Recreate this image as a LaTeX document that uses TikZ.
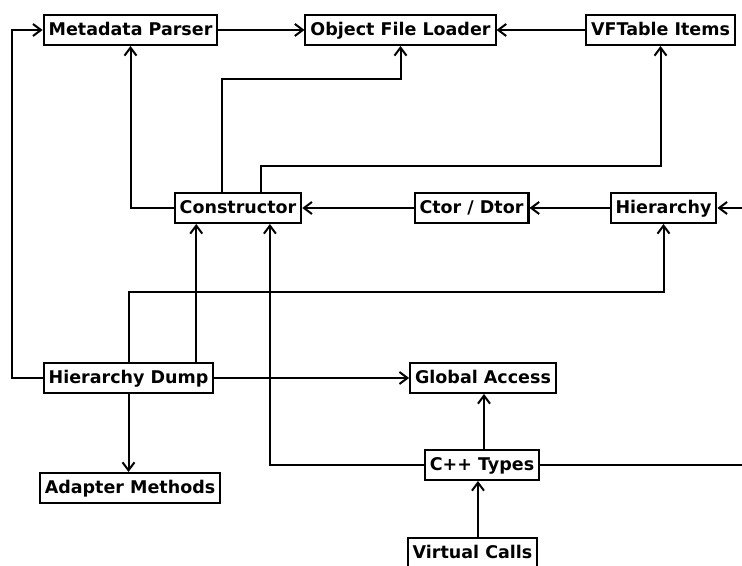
\documentclass[tikz,border=0pt]{standalone}
\usepackage{fontspec}
\setmainfont{DejaVu Sans}
\usepackage{tikz}
\usetikzlibrary{arrows.meta, positioning, calc}
\tikzset{
  modbox/.style={
    draw, line width=2bp, minimum height=30bp, inner xsep=5bp, inner ysep=0pt,
    text height=13bp, text depth=1bp,
    font=\fontsize{17.5bp}{20bp}\selectfont\bfseries, fill=white
  },
  dep/.style={-{Straight Barb[length=8bp, width=12bp, line width=2bp]}, line width=2bp},
  depline/.style={line width=2bp}
}

\begin{document}
\begin{tikzpicture}[x=1bp, y=1bp]
  \useasboundingbox (0,0) rectangle (742,566);
  % top row
  \node[modbox] (meta) at (130.5,536) {Metadata Parser};
  \node[modbox] (loader) at (400.5,536) {Object File Loader};
  \node[modbox] (vftable) at (660.5,536) {VFTable Items};
  % middle row
  \node[modbox] (ctor) at (238,358) {Constructor};
  \node[modbox] (ctordtor) at (471.5,358) {Ctor / Dtor};
  \node[modbox] (hier) at (663.5,358) {Hierarchy};
  % lower part
  \node[modbox] (dump) at (128.5,188) {Hierarchy Dump};
  \node[modbox] (global) at (483,188) {Global Access};
  \node[modbox] (adapter) at (130,78) {Adapter Methods};
  \node[modbox] (cpptypes) at (482,101) {C++ Types};
  \node[modbox] (vcalls) at (472.5,13) {Virtual Calls};
  % loose ends at the right border
  \coordinate (hierin) at (742,358);
  \coordinate (typesout) at (742,101);

  \draw[dep] (meta) -- (loader);
  \draw[dep] (vftable) -- (loader);
  \draw[dep] (ctor.west) -| (meta.south);
  \draw[dep] ([xshift=-16]ctor.north) -- ++(0,113) -| (loader.south);
  \draw[dep] ([xshift=23]ctor.north) -- ++(0,26) -| (vftable.south);
  \draw[dep] (ctordtor) -- (ctor);
  \draw[dep] (hier) -- (ctordtor);
  \draw[dep] (hierin) -- (hier);
  \draw[dep] (dump.west) -- ++(-31,0) |- (meta.west);
  \draw[dep] ([xshift=68]dump.north) -- ([xshift=68]dump.north |- ctor.south);
  \draw[dep] (dump.north) -- ++(0,70) -| (hier.south);
  \draw[dep] (dump) -- (global);
  \draw[dep] (dump.south) -- (dump.south |- adapter.north);
  \draw[dep] (cpptypes.west) -| ([xshift=32]ctor.south);
  \draw[dep] ([xshift=2]cpptypes.north) -- ([xshift=2]cpptypes.north |- global.south);
  \draw[depline] (cpptypes.east) -- (typesout);
  \draw[dep] ([xshift=5.5]vcalls.north) -- ([xshift=5.5]vcalls.north |- cpptypes.south);
\end{tikzpicture}
\end{document}
